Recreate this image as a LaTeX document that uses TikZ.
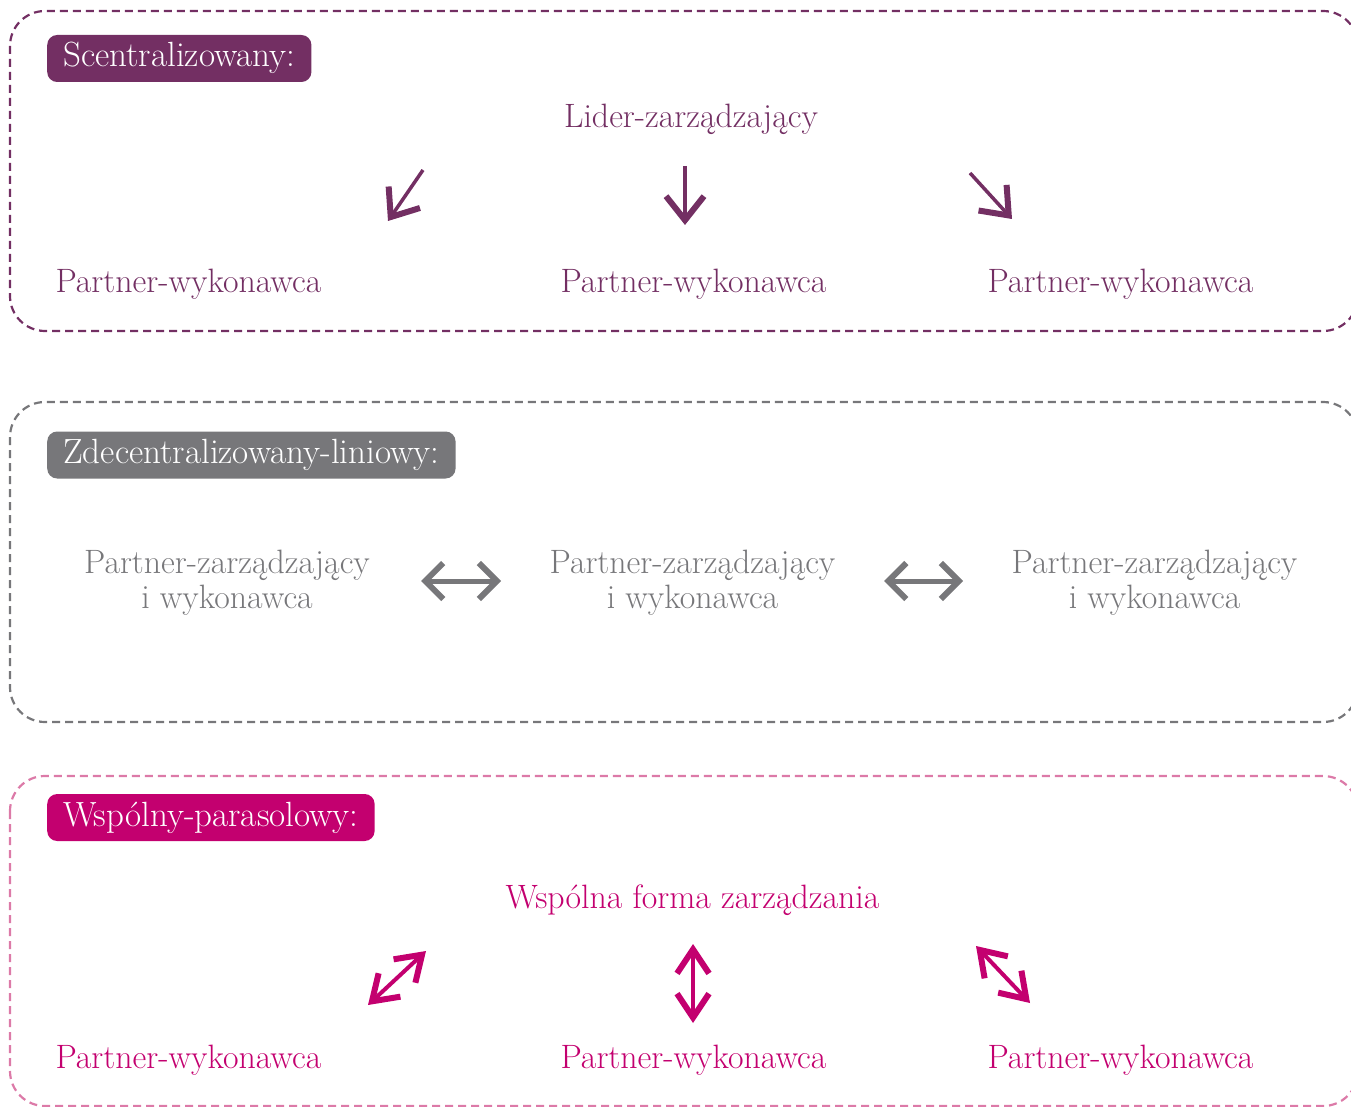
\documentclass[tikz,border=0pt]{standalone}
\usepackage{fontspec}
\usetikzlibrary{arrows.meta}
\definecolor{cpurple}{HTML}{732F63}
\definecolor{cgray}{HTML}{77777A}
\definecolor{cmag}{HTML}{C3006F}
\definecolor{cpink}{HTML}{DC7AA8}
\begin{document}
\begin{tikzpicture}[x=1pt,y=-1pt,
  txt/.style={font=\fontsize{33.8}{35}\selectfont, inner sep=0pt, anchor=base},
  ml/.style={font=\fontsize{33.8}{35}\selectfont, inner sep=0pt, align=center, text=cgray},
  frame/.style={draw, line width=2.2pt, dash pattern=on 8pt off 5pt, rounded corners=35pt},
  tag/.style={rounded corners=10pt, text=white, font=\fontsize{35}{38}\selectfont,
    inner xsep=16pt, inner ysep=0pt, anchor=west, minimum height=47pt,
    text height=24pt, text depth=7pt},
  parr/.style={cpurple, line width=3.5pt, -{Straight Barb[length=24pt,width=38pt,line width=6pt]}},
  garr/.style={cgray, line width=5pt, {Straight Barb[length=18pt,width=36pt,line width=6pt]}-{Straight Barb[length=18pt,width=36pt,line width=6pt]}},
  marr/.style={cmag, line width=4pt, {Straight Barb[length=24pt,width=32pt,line width=6pt]}-{Straight Barb[length=24pt,width=32pt,line width=6pt]}}
]
\useasboundingbox (0,0) rectangle (1351,1107);

% frames
\draw[frame, cpurple] (10,11) rectangle (1358,331);
\draw[frame, cgray] (10,402) rectangle (1358,722);
\draw[frame, cpink] (10,776) rectangle (1358,1106);

% tags
\node[tag, fill=cpurple] (t1) at (47,58.5) {Scentralizowany:};
\node[tag, fill=cgray] (t2) at (47,455) {Zdecentralizowany-liniowy:};
\node[tag, fill=cmag] (t3) at (47,817.5) {Wspólny-parasolowy:};

% section 1
\node[txt, text=cpurple] (lead) at (691,128) {Lider-zarządzający};
\node[txt, text=cpurple] (p1a) at (188.5,292) {Partner-wykonawca};
\node[txt, text=cpurple] (p1b) at (693.5,292) {Partner-wykonawca};
\node[txt, text=cpurple] (p1c) at (1120.5,292) {Partner-wykonawca};
\coordinate (a1s) at (423,170); \coordinate (a1e) at (388,221);
\coordinate (a2s) at (685,166); \coordinate (a2e) at (685,225);
\coordinate (a3s) at (970,173); \coordinate (a3e) at (1012,219);
\draw[parr] (a1s) -- (a1e);
\draw[parr] (a2s) -- (a2e);
\draw[parr] (a3s) -- (a3e);

% section 2
\node[ml] (q1) at (227,583) {Partner-zarządzający\\i wykonawca};
\node[ml] (q2) at (692.5,583) {Partner-zarządzający\\i wykonawca};
\node[ml] (q3) at (1154.5,583) {Partner-zarządzający\\i wykonawca};
\coordinate (b1s) at (421,581); \coordinate (b1e) at (501,581);
\coordinate (b2s) at (884,581); \coordinate (b2e) at (963,581);
\draw[garr] (b1s) -- (b1e);
\draw[garr] (b2s) -- (b2e);

% section 3
\node[txt, text=cmag] (wsp) at (692.5,908) {Wspólna forma zarządzania};
\node[txt, text=cmag] (p3a) at (188.5,1068) {Partner-wykonawca};
\node[txt, text=cmag] (p3b) at (693.5,1068) {Partner-wykonawca};
\node[txt, text=cmag] (p3c) at (1120.5,1068) {Partner-wykonawca};
\coordinate (c1s) at (368,1005); \coordinate (c1e) at (426,951);
\coordinate (c2s) at (693,944); \coordinate (c2e) at (693,1023);
\coordinate (c3s) at (976,946); \coordinate (c3e) at (1030,1003);
\draw[marr] (c1s) -- (c1e);
\draw[marr] (c2s) -- (c2e);
\draw[marr] (c3s) -- (c3e);
\end{tikzpicture}
\end{document}
